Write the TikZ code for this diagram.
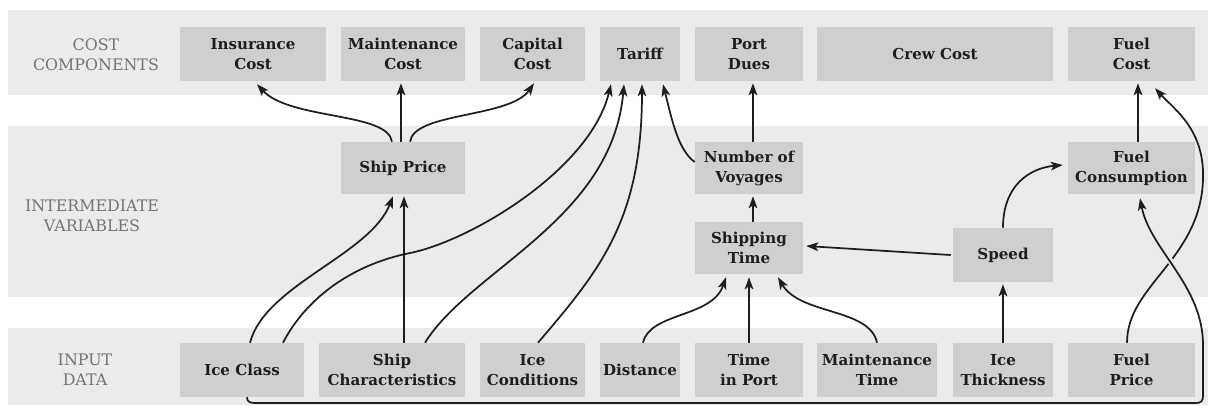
\documentclass[tikz,border=0pt]{standalone}
\usepackage{fontspec}
\setmainfont{DejaVu Serif}
\usetikzlibrary{arrows.meta,calc}
\definecolor{bandcol}{HTML}{EBEBEB}
\definecolor{boxcol}{HTML}{CFCFCF}
\definecolor{labcol}{HTML}{747474}
\definecolor{inkcol}{HTML}{1E1E1E}
\begin{document}
\begin{tikzpicture}[x=0.75pt,y=-0.75pt,
  sz/.style 2 args={minimum width=#1*0.75pt, minimum height=#2*0.75pt},
  box/.style={fill=boxcol, inner sep=0pt, align=center, text=inkcol, font=\bfseries\fontsize{11.3}{15}\selectfont},
  lab/.style={align=center, text=labcol, font=\fontsize{11.9}{15}\selectfont},
  conn/.style={draw=inkcol, line width=1.3pt, -{Stealth[length=9pt,width=6.5pt,inset=2.2pt]}},
  halo/.style={draw=bandcol, line width=4.5pt},
]
\useasboundingbox (0,0) rectangle (1211,405);
% bands
\fill[bandcol] (8,10) rectangle (1208,95);
\fill[bandcol] (8,126) rectangle (1208,297);
\fill[bandcol] (8,328) rectangle (1208,405);
% row labels
\node[lab] (l1) at (96,55) {COST\\COMPONENTS};
\node[lab] (l2) at (92,216) {INTERMEDIATE\\VARIABLES};
\node[lab] (l3) at (85,370) {INPUT\\DATA};
% cost components
\node[box, sz={146}{54}] (ins) at (253,54) {Insurance\\Cost};
\node[box, sz={124}{54}] (mc) at (403,54) {Maintenance\\Cost};
\node[box, sz={105}{54}] (cap) at (532.5,54) {Capital\\Cost};
\node[box, sz={80}{54}] (tar) at (640,54) {Tariff};
\node[box, sz={108}{54}] (pd) at (749,54) {Port\\Dues};
\node[box, sz={236}{54}] (crew) at (935,54) {Crew Cost};
\node[box, sz={127}{54}] (fc) at (1131.5,54) {Fuel\\Cost};
% intermediate
\node[box, sz={124}{52}] (sp) at (403,168) {Ship Price};
\node[box, sz={108}{52}] (nv) at (749,168) {Number of\\Voyages};
\node[box, sz={108}{52}] (st) at (749,248) {Shipping\\Time};
\node[box, sz={100}{54}] (spd) at (1003,255) {Speed};
\node[box, sz={127}{52}] (fcons) at (1131.5,168) {Fuel\\Consumption};
% inputs
\node[box, sz={124}{54}] (ic) at (242,370) {Ice Class};
\node[box, sz={146}{54}] (sc) at (392,370) {Ship\\Characteristics};
\node[box, sz={105}{54}] (icond) at (532.5,370) {Ice\\Conditions};
\node[box, sz={80}{54}] (dist) at (640,370) {Distance};
\node[box, sz={108}{54}] (tip) at (749,370) {Time\\in Port};
\node[box, sz={120}{54}] (mt) at (877,370) {Maintenance\\Time};
\node[box, sz={100}{54}] (it) at (1003,370) {Ice\\Thickness};
\node[box, sz={127}{54}] (fp) at (1131.5,370) {Fuel\\Price};
% connectors: ship price
\draw[conn] ($(sp.north)+(-11,0)$) .. controls (388,112) and (290,120) .. ($(ins.south)+(4,3)$);
\draw[conn] ($(sp.north)+(-2,0)$) -- ($(mc.south)+(-2,2)$);
\draw[conn] ($(sp.north)+(7,0)$) .. controls (414,112) and (510,118) .. ($(cap.south)+(1.5,2)$);
\draw[conn] ($(ic.north)+(8,0)$) .. controls (265,285) and (370,255) .. ($(sp.south)+(-10,2)$);
\draw[conn] ($(sc.north)+(12,0)$) -- ($(sp.south)+(1,2)$);
% tariff
\draw[conn] ($(ic.north)+(41,0)$) .. controls (305,300) and (350,265) .. (410,253)
   .. controls (470,241) and (590,170) .. ($(tar.south)+(-29,3)$);
\draw[conn] ($(sc.north)+(33,0)$) .. controls (470,270) and (612,220) .. ($(tar.south)+(-16,3)$);
\draw[conn] ($(icond.north)+(5.5,0)$) .. controls (600,270) and (642,220) .. ($(tar.south)+(2,3)$);
\draw[conn] ($(nv.west)+(0,-6)$) .. controls (678,150) and (672,120) .. ($(tar.south)+(23,3)$);
% voyages, shipping time
\draw[conn] ($(nv.north)+(4,0)$) -- ($(pd.south)+(4,2)$);
\draw[conn] ($(st.north)+(4,0)$) -- ($(nv.south)+(4,2)$);
\draw[conn] ($(dist.north)+(3,0)$) .. controls (650,312) and (712,318) .. ($(st.south)+(-23,3)$);
\draw[conn] ($(tip.north)+(0,0)$) -- ($(st.south)+(0,3)$);
\draw[conn] (mt.north) .. controls (870,308) and (800,315) .. ($(st.south)+(29,3)$);
% speed
\draw[conn] ($(spd.west)+(-2,0)$) -- ($(st.east)+(3,-2)$);
\draw[conn] (spd.north) .. controls (1003,185) and (1030,168) .. ($(fcons.west)+(-5,-3)$);
\draw[conn] (it.north) -- ($(spd.south)+(0,2)$);
% fuel
\draw[conn] ($(fcons.north)+(6.5,0)$) -- ($(fc.south)+(6.5,2)$);
\draw[conn] ($(fp.north)+(-4.5,0)$) .. controls (1127,285) and (1200,260) .. (1203,180)
   .. controls (1205,130) and (1175,110) .. ($(fc.south)+(23.5,7)$);
\begin{scope}
  \clip (1150,215) rectangle (1198,290);
  \draw[halo] (1203,345) .. controls (1203,285) and (1150,250) .. ($(fcons.south)+(8.5,4)$);
\end{scope}
\draw[conn] ($(ic.south)+(5,0)$) .. controls (247,401) and (249,403) .. (255,403) -- (1196,403)
   .. controls (1201,403) and (1203,401) .. (1203,396) -- (1203,345)
   .. controls (1203,285) and (1150,250) .. ($(fcons.south)+(8.5,4)$);
\end{tikzpicture}
\end{document}
